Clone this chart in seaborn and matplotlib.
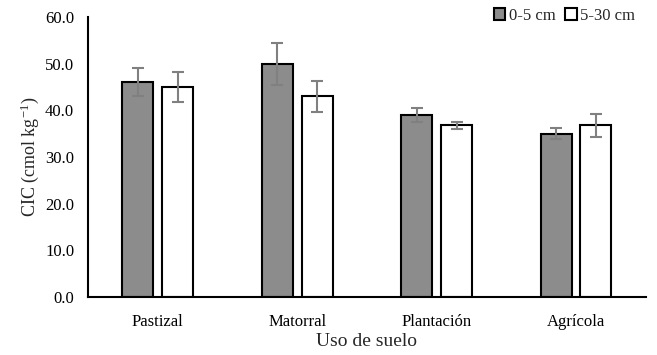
import numpy as np
import pandas as pd
import matplotlib
matplotlib.use("Agg")
import matplotlib.pyplot as plt
import seaborn as sns
from matplotlib.patches import Patch

usos = ["Pastizal", "Matorral", "Plantación", "Agrícola"]
profundidades = ["0-5 cm", "5-30 cm"]
cic_0_5 = [46.0, 50.0, 39.0, 35.0]
cic_5_30 = [45.0, 43.0, 36.8, 36.8]
err_0_5 = [3.0, 4.5, 1.5, 1.2]
err_5_30 = [3.2, 3.4, 0.7, 2.5]

df = pd.DataFrame({
    "Uso": usos * 2,
    "Profundidad": [profundidades[0]] * 4 + [profundidades[1]] * 4,
    "CIC": cic_0_5 + cic_5_30,
    "err": err_0_5 + err_5_30,
})

sns.set_style("white")
plt.rcParams["font.family"] = ["Liberation Serif", "DejaVu Serif"]
plt.rcParams["mathtext.fontset"] = "custom"
plt.rcParams["mathtext.rm"] = "Liberation Serif"
plt.rcParams["mathtext.it"] = "Liberation Serif:italic"

fig = plt.figure(figsize=(6.57, 3.55), dpi=100)
ax = fig.add_axes([0.134, 0.163, 0.849, 0.789])

colores = {"0-5 cm": "#8c8c8c", "5-30 cm": "#ffffff"}
sns.barplot(data=df, x="Uso", y="CIC", hue="Profundidad", order=usos,
            hue_order=profundidades, palette=colores, width=0.57, gap=0.22,
            edgecolor="black", linewidth=1.5, errorbar=None, legend=False, ax=ax)

# error bars on top of each bar
for i, prof in enumerate(profundidades):
    sub = df[df["Profundidad"] == prof].set_index("Uso").loc[usos]
    bars = ax.containers[i]
    xs = [b.get_x() + b.get_width() / 2 for b in bars]
    ax.errorbar(xs, sub["CIC"], yerr=sub["err"], fmt="none", ecolor="#808080",
                elinewidth=1.5, capsize=4, capthick=1.5, zorder=5)

ax.set_ylim(0, 60)
ax.set_xlim(-0.5, 3.5)
ax.set_yticks(np.arange(0, 61, 10))
ax.set_yticklabels([f"{v:.1f}" for v in np.arange(0, 61, 10)])
ax.tick_params(axis="both", length=0, labelsize=12, colors="black")
ax.tick_params(axis="x", pad=12)
ax.tick_params(axis="y", pad=10)
ax.set_xlabel("Uso de suelo", fontsize=14, labelpad=2)
ax.set_ylabel(r"CIC (cmol kg$^{\mathrm{-1}}$)", fontsize=13, labelpad=3)

sns.despine(ax=ax)
for s in ["left", "bottom"]:
    ax.spines[s].set_color("black")
    ax.spines[s].set_linewidth(1.5)

handles = [Patch(facecolor=colores[p], edgecolor="black", linewidth=1.5, label=p)
           for p in profundidades]
fig.legend(handles=handles, loc="upper right", bbox_to_anchor=(0.99, 1.02),
           ncol=2, frameon=False, fontsize=12, handlelength=0.7, handleheight=0.7,
           handletextpad=0.2, columnspacing=0.6)

fig.savefig("out.png", dpi=100)
